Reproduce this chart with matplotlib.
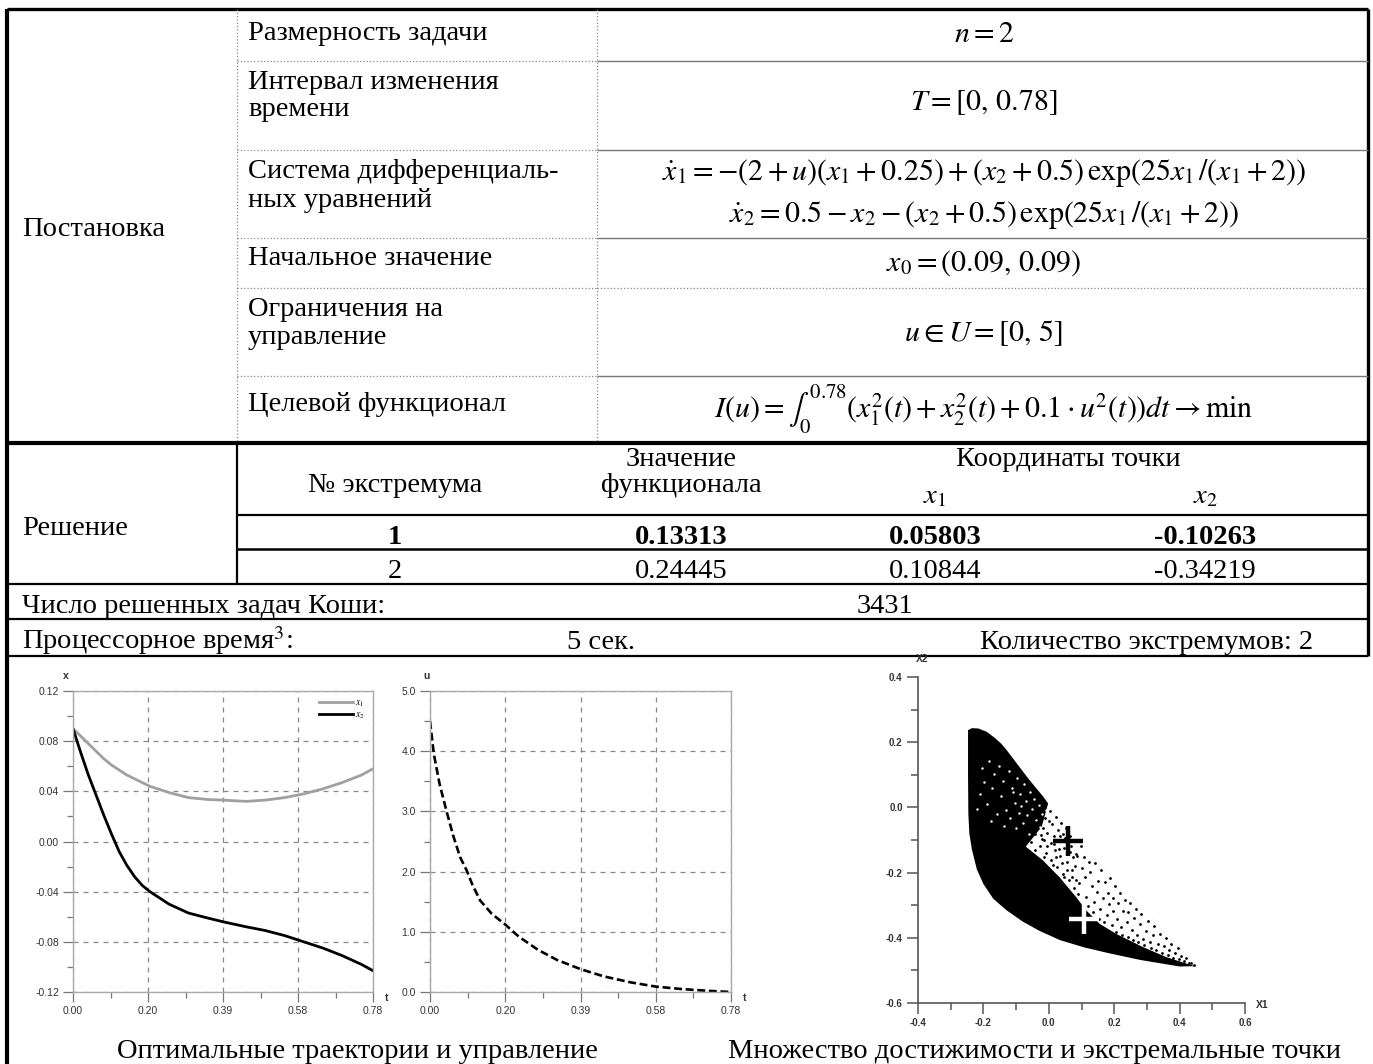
import numpy as np
import matplotlib.pyplot as plt
from matplotlib.patches import Polygon

plt.rcParams['font.family'] = ['Liberation Serif', 'DejaVu Serif']
plt.rcParams['mathtext.fontset'] = 'stix'

W, H = 1373, 1064

# ---------- текст таблицы ----------
setup_title = 'Постановка'
setup_labels = [['Размерность задачи'],
                ['Интервал изменения', 'времени'],
                ['Система дифференциаль-', 'ных уравнений'],
                ['Начальное значение'],
                ['Ограничения на', 'управление'],
                ['Целевой функционал']]
setup_values = [[r'$n = 2$'],
                [r'$T = [0,\, 0.78]$'],
                [r'$\dot{x}_1 = -(2+u)(x_1+0.25)+(x_2+0.5)\,\exp(25x_1\,/(x_1+2))$',
                 r'$\dot{x}_2 = 0.5-x_2-(x_2+0.5)\,\exp(25x_1\,/(x_1+2))$'],
                [r'$x_0 = (0.09,\, 0.09)$'],
                [r'$u \in U = [0,\, 5]$'],
                [r'$I(u) = \int_0^{0.78}(x_1^2(t)+x_2^2(t)+0.1\cdot u^2(t))dt \rightarrow \min$']]

solution_title = 'Решение'
extr_num = ['1', '2']
extr_value = ['0.13313', '0.24445']
extr_x1 = ['0.05803', '0.10844']
extr_x2 = ['-0.10263', '-0.34219']
cauchy_count = '3431'
cpu_time = '5 сек.'
extr_count = 2

# ---------- оптимальные траектории ----------
t_traj = [0, 0.02, 0.04, 0.06, 0.08, 0.10, 0.12, 0.14, 0.16, 0.18, 0.20, 0.25,
          0.30, 0.35, 0.39, 0.45, 0.50, 0.55, 0.60, 0.65, 0.70, 0.75, 0.78]
x1_traj = [0.090, 0.084, 0.078, 0.072, 0.066, 0.061, 0.057, 0.053, 0.050, 0.047, 0.044, 0.039,
           0.035, 0.0335, 0.033, 0.032, 0.033, 0.035, 0.038, 0.042, 0.047, 0.053, 0.058]
x2_traj = [0.090, 0.071, 0.053, 0.037, 0.021, 0.006, -0.008, -0.019, -0.028, -0.035, -0.040, -0.050,
           -0.057, -0.061, -0.064, -0.068, -0.071, -0.075, -0.080, -0.085, -0.091, -0.098, -0.103]

# ---------- оптимальное управление ----------
t_u = [0, 0.01, 0.025, 0.043, 0.06, 0.078, 0.095, 0.11, 0.13, 0.16, 0.195, 0.23,
       0.28, 0.33, 0.39, 0.45, 0.52, 0.585, 0.65, 0.72, 0.78]
u_vals = [4.5, 3.95, 3.45, 3.0, 2.6, 2.24, 2.02, 1.78, 1.52, 1.3, 1.12, 0.92,
          0.7, 0.53, 0.38, 0.26, 0.16, 0.09, 0.05, 0.02, 0.0]

# ---------- множество достижимости (контуры и точки) ----------
outer_x = [-0.247, -0.235, -0.215, -0.19, -0.165, -0.145, -0.129, -0.098, -0.06, -0.017,
           0.034, 0.065, 0.136, 0.238, 0.34, 0.40, 0.452,
           0.40, 0.34, 0.28, 0.187, 0.11, 0.034, -0.03, -0.08, -0.13, -0.17, -0.20, -0.22,
           -0.235, -0.243, -0.246, -0.247]
outer_y = [0.237, 0.243, 0.242, 0.232, 0.213, 0.195, 0.176, 0.135, 0.085, 0.033,
           -0.038, -0.07, -0.155, -0.258, -0.366, -0.43, -0.487,
           -0.488, -0.478, -0.468, -0.448, -0.43, -0.407, -0.378, -0.35, -0.315, -0.28, -0.235,
           -0.19, -0.13, -0.08, -0.02, 0.1]
# разреженная зона между плотной частью и правой границей
sparse_zone_x = [0.0, 0.034, 0.065, 0.136, 0.238, 0.34, 0.40, 0.452,
                 0.361, 0.289, 0.208, 0.157, 0.116, 0.085, 0.034, -0.017, -0.068, -0.06, -0.02]
sparse_zone_y = [0.013, -0.038, -0.07, -0.155, -0.258, -0.366, -0.43, -0.487,
                 -0.458, -0.427, -0.387, -0.356, -0.315, -0.274, -0.213, -0.161, -0.120, -0.11, -0.06]
# отдельные точки около первого экстремума
mid_dots_x = [-0.049, -0.043, -0.055, -0.036, -0.028, -0.033, -0.019, -0.022, -0.012, -0.009,
              -0.004, 0.003, 0.006, 0.011, 0.008, 0.016, 0.021, 0.019, 0.027, 0.025, 0.032,
              0.037, 0.035, 0.042, 0.044, 0.047, 0.052, 0.055, 0.059, 0.062, 0.064, 0.068,
              0.071, 0.075, 0.078, -0.015, -0.041, 0.013,
              -0.045, -0.025, -0.007, 0.002, 0.015, 0.023, 0.033, 0.04, 0.05, 0.057, 0.066,
              0.07, 0.076, 0.081, 0.084, 0.087, -0.03, -0.016, 0.045, 0.031]
mid_dots_y = [-0.027, -0.081, -0.105, -0.046, -0.118, 0.012, -0.064, -0.098, -0.031, -0.139,
              -0.077, -0.012, -0.109, -0.052, -0.161, -0.087, -0.029, -0.131, -0.068, -0.184,
              -0.104, -0.047, -0.149, -0.081, -0.204, -0.126, -0.063, -0.168, -0.142, -0.223,
              -0.087, -0.118, -0.191, -0.152, -0.247, -0.152, -0.131, -0.178,
              -0.058, -0.085, -0.118, -0.042, -0.112, -0.152, -0.089, -0.172, -0.095, -0.193,
              -0.137, -0.212, -0.099, -0.181, -0.224, -0.149, -0.021, -0.101, -0.215, -0.128]
# отдельные точки в нижней правой части
far_dots_x = [0.083, 0.097, 0.091, 0.102, 0.089, 0.108, 0.115, 0.111, 0.124, 0.119, 0.131,
              0.127, 0.138, 0.142, 0.136, 0.149, 0.153, 0.146, 0.161, 0.158, 0.166, 0.172,
              0.169, 0.177, 0.181, 0.186, 0.184, 0.192, 0.197, 0.201, 0.195, 0.206, 0.212,
              0.209, 0.218, 0.221, 0.227, 0.225, 0.234, 0.238, 0.243, 0.241, 0.249, 0.253,
              0.257, 0.262, 0.266, 0.269, 0.274, 0.279, 0.283, 0.288, 0.292, 0.297, 0.304,
              0.308, 0.312, 0.318, 0.323, 0.329, 0.334, 0.339, 0.346, 0.351, 0.357, 0.363,
              0.368, 0.375, 0.379, 0.387, 0.394, 0.398, 0.405, 0.413, 0.419, 0.428, 0.436, 0.443]
far_dots_y = [-0.142, -0.118, -0.231, -0.187, -0.265, -0.152, -0.274, -0.214, -0.168, -0.303,
              -0.241, -0.197, -0.289, -0.172, -0.322, -0.226, -0.341, -0.259, -0.192, -0.311,
              -0.278, -0.229, -0.353, -0.331, -0.262, -0.218, -0.297, -0.362, -0.318, -0.241,
              -0.277, -0.381, -0.293, -0.343, -0.262, -0.366, -0.317, -0.391, -0.284, -0.353,
              -0.398, -0.321, -0.292, -0.376, -0.406, -0.339, -0.311, -0.392, -0.414, -0.357,
              -0.327, -0.403, -0.421, -0.378, -0.348, -0.412, -0.432, -0.391, -0.365, -0.438,
              -0.419, -0.389, -0.447, -0.426, -0.402, -0.452, -0.437, -0.419, -0.461, -0.447,
              -0.432, -0.466, -0.455, -0.472, -0.461, -0.476, -0.476, -0.483]
# светлые просветы в верхней, почти сплошной части
specks_x = [-0.205, -0.183, -0.168, -0.151, -0.139, -0.122, -0.113, -0.097, -0.088, -0.075,
            -0.071, -0.058, -0.052, -0.046, -0.039, -0.031, -0.026, -0.021, -0.014, -0.009,
            -0.062, -0.048, -0.078, -0.091, -0.104, -0.118, -0.131, -0.146, -0.159, -0.174,
            -0.188, -0.197, -0.211, -0.221, -0.178, -0.137, -0.099, -0.084, -0.066, -0.108]
specks_y = [0.121, 0.142, 0.103, 0.127, 0.082, 0.111, 0.061, 0.089, 0.042, 0.071,
            0.019, 0.048, -0.006, 0.027, -0.038, 0.008, -0.061, -0.019, -0.044, -0.008,
            -0.081, -0.096, -0.047, -0.018, 0.013, -0.031, -0.008, 0.036, -0.021, 0.061,
            0.011, 0.079, 0.041, -0.004, -0.042, -0.058, -0.063, 0.004, -0.022, 0.047]
extr_pts_x = [0.05803, 0.10844]
extr_pts_y = [-0.10263, -0.34219]

fig = plt.figure(figsize=(W / 100, H / 100), dpi=100)
ax0 = fig.add_axes([0, 0, 1, 1])
ax0.set_xlim(0, W)
ax0.set_ylim(H, 0)
ax0.axis('off')


def hline(y, x0, x1, lw=1.5, color='black', ls='-'):
    ax0.plot([x0, x1], [y, y], color=color, lw=lw, ls=ls, solid_capstyle='butt')


def vline(x, y0, y1, lw=1.5, color='black', ls='-'):
    ax0.plot([x, x], [y0, y1], color=color, lw=lw, ls=ls, solid_capstyle='butt')


def px_axes(x0, y0, x1, y1):
    return fig.add_axes([x0 / W, 1 - y1 / H, (x1 - x0) / W, (y1 - y0) / H])


FS = 20.5
L, C1, C2, R = 7, 237, 597, 1368

# рамка
hline(9, L, R, lw=2.4)
vline(L, 9, H, lw=3)
vline(R, 9, 656, lw=2.4)
hline(443, L, R, lw=3)

# постановка
row_lines = [61, 150, 238, 288, 376]
for y in row_lines:
    hline(y, C1, C2, lw=0.9, color='#888888', ls=':')
    if y == 288:
        hline(y, C2, R, lw=0.9, color='#888888', ls=':')
    else:
        hline(y, C2, R, lw=1.0, color='#777777')
vline(C1, 9, 443, lw=0.9, color='#888888', ls=':')
vline(C2, 9, 443, lw=0.9, color='#888888', ls=':')

ax0.text(22, 236, setup_title, fontsize=FS, va='baseline')
label_base = [[40], [89, 116], [178, 207], [265], [316, 344], [411]]
value_cent = [[35], [103], [173, 215], [263], [333], [409]]
for lab, bases in zip(setup_labels, label_base):
    for s, yb in zip(lab, bases):
        ax0.text(248, yb, s, fontsize=FS, va='baseline')
for val, cents in zip(setup_values, value_cent):
    for s, yc in zip(val, cents):
        ax0.text(984, yc, s, fontsize=FS + 1, ha='center', va='center')

# решение
vline(C1, 443, 584, lw=1.6)
hline(515, C1, R, lw=1.6)
hline(549, C1, R, lw=1.8)
hline(584, L, R, lw=1.6)
hline(619, L, R, lw=1.6)
hline(656, L, R, lw=1.6)

ax0.text(22, 535, solution_title, fontsize=FS, va='baseline')
ax0.text(395, 492, '№ экстремума', fontsize=FS, ha='center', va='baseline')
ax0.text(681, 466, 'Значение', fontsize=FS, ha='center', va='baseline')
ax0.text(681, 492, 'функционала', fontsize=FS, ha='center', va='baseline')
ax0.text(1068, 466, 'Координаты точки', fontsize=FS, ha='center', va='baseline')
ax0.text(935, 503, r'$x_1$', fontsize=FS, ha='center', va='baseline')
ax0.text(1205, 503, r'$x_2$', fontsize=FS, ha='center', va='baseline')
for i, yb in enumerate([544, 578]):
    fw = 'bold' if i == 0 else 'normal'
    ax0.text(395, yb, extr_num[i], fontsize=FS, ha='center', va='baseline', fontweight=fw)
    ax0.text(681, yb, extr_value[i], fontsize=FS, ha='center', va='baseline', fontweight=fw)
    ax0.text(935, yb, extr_x1[i], fontsize=FS, ha='center', va='baseline', fontweight=fw)
    ax0.text(1205, yb, extr_x2[i], fontsize=FS, ha='center', va='baseline', fontweight=fw)

ax0.text(22, 613, 'Число решенных задач Коши:', fontsize=FS, va='baseline')
ax0.text(885, 613, cauchy_count, fontsize=FS, ha='center', va='baseline')
ax0.text(22, 649, 'Процессорное время$^3$:', fontsize=FS, va='baseline')
ax0.text(601, 649, cpu_time, fontsize=FS, ha='center', va='baseline')
ax0.text(980, 649, 'Количество экстремумов: ' + str(extr_count), fontsize=FS, va='baseline')

# подписи под графиками
ax0.text(357, 1058, 'Оптимальные траектории и управление', fontsize=FS, ha='center', va='baseline')
ax0.text(728, 1058, 'Множество достижимости и экстремальные точки', fontsize=FS, va='baseline')

# подписи осей
lab_kw = dict(fontsize=7.5, fontweight='bold', family='Liberation Sans', color='#303030',
              ha='center', va='center')
ax0.text(66, 676, 'x', **lab_kw)
ax0.text(387, 998, 't', **lab_kw)
ax0.text(427, 676, 'u', **lab_kw)
ax0.text(745, 998, 't', **lab_kw)
ax0.text(922, 659, 'X2', **lab_kw)
ax0.text(1262, 1005, 'X1', **lab_kw)

t_ticks = [0, 0.195, 0.39, 0.585, 0.78]
t_labels = ['0.00', '0.20', '0.39', '0.58', '0.78']
t_minor = [0.0975, 0.2925, 0.4875, 0.6825]


def style_box(ax):
    for sp in ax.spines.values():
        sp.set_color('#aaaaaa')
        sp.set_linewidth(1.0)
    ax.tick_params(which='major', direction='out', length=7, width=0.9, color='#777777',
                   labelsize=7.5, labelcolor='#333333', pad=3)
    ax.tick_params(which='minor', direction='out', length=4, width=0.9, color='#777777')
    ax.grid(True, which='major', color='#888888', lw=0.9, ls=(0, (4, 4)))
    for lab in ax.get_xticklabels() + ax.get_yticklabels():
        lab.set_family('Liberation Sans')


# траектории
ax1 = px_axes(73, 691, 373, 992)
ax1.plot(t_traj, x1_traj, color='#a0a0a0', lw=2.0, label=r'$x_1$')
ax1.plot(t_traj, x2_traj, color='black', lw=2.0, label=r'$x_2$')
ax1.set_xlim(0, 0.78)
ax1.set_ylim(-0.12, 0.12)
ax1.set_xticks(t_ticks)
ax1.set_xticklabels(t_labels)
ax1.set_xticks(t_minor, minor=True)
ax1.set_yticks([-0.12, -0.08, -0.04, 0.0, 0.04, 0.08, 0.12])
ax1.set_yticklabels(['-0.12', '-0.08', '-0.04', '0.00', '0.04', '0.08', '0.12'])
ax1.set_yticks([-0.10, -0.06, -0.02, 0.02, 0.06, 0.10], minor=True)
style_box(ax1)
ax1.legend(loc='upper right', frameon=False, fontsize=7, handlelength=3.4,
           handletextpad=0.3, labelspacing=0.15, borderaxespad=0.4)

# управление
ax2 = px_axes(430, 691, 731, 992)
ax2.plot(t_u, u_vals, color='black', lw=1.9, dashes=(3, 1.4))
ax2.set_xlim(0, 0.78)
ax2.set_ylim(0, 5)
ax2.set_xticks(t_ticks)
ax2.set_xticklabels(t_labels)
ax2.set_xticks(t_minor, minor=True)
ax2.set_yticks([0, 1, 2, 3, 4, 5])
ax2.set_yticklabels(['0.0', '1.0', '2.0', '3.0', '4.0', '5.0'])
ax2.set_yticks([0.5, 1.5, 2.5, 3.5, 4.5], minor=True)
style_box(ax2)

# множество достижимости
ax3 = px_axes(918, 677, 1245, 1003)
ax3.add_patch(Polygon(list(zip(outer_x, outer_y)), closed=True, facecolor='black',
                      edgecolor='none'))
ax3.add_patch(Polygon(list(zip(sparse_zone_x, sparse_zone_y)), closed=True, facecolor='white',
                      edgecolor='white', lw=0.8))
ax3.scatter(specks_x, specks_y, s=3, color='white', linewidths=0)
ax3.scatter(mid_dots_x, mid_dots_y, s=4, color='black', linewidths=0)
ax3.scatter(far_dots_x, far_dots_y, s=4, color='black', linewidths=0)
ax3.plot(extr_pts_x[0], extr_pts_y[0], marker='+', ms=21, mew=3.2, color='black')
ax3.plot(extr_pts_x[1], extr_pts_y[1], marker='+', ms=21, mew=3.2, color='white')
ax3.set_xlim(-0.4, 0.6)
ax3.set_ylim(-0.6, 0.4)
ax3.spines['top'].set_visible(False)
ax3.spines['right'].set_visible(False)
for sp in ['left', 'bottom']:
    ax3.spines[sp].set_color('#555555')
    ax3.spines[sp].set_linewidth(1.2)
ax3.set_xticks([-0.4, -0.2, 0.0, 0.2, 0.4, 0.6])
ax3.set_xticklabels(['-0.4', '-0.2', '0.0', '0.2', '0.4', '0.6'])
ax3.set_xticks([-0.3, -0.1, 0.1, 0.3, 0.5], minor=True)
ax3.set_yticks([-0.6, -0.4, -0.2, 0.0, 0.2, 0.4])
ax3.set_yticklabels(['-0.6', '-0.4', '-0.2', '0.0', '0.2', '0.4'])
ax3.set_yticks([-0.5, -0.3, -0.1, 0.1, 0.3], minor=True)
ax3.tick_params(which='major', direction='out', length=8, width=1.1, color='#555555',
                labelsize=7, labelcolor='#333333', pad=3)
ax3.tick_params(which='minor', direction='out', length=5, width=1.1, color='#555555')
for lab in ax3.get_xticklabels() + ax3.get_yticklabels():
    lab.set_family('Liberation Sans')
    lab.set_fontweight('bold')

fig.savefig('out.png', dpi=100)
